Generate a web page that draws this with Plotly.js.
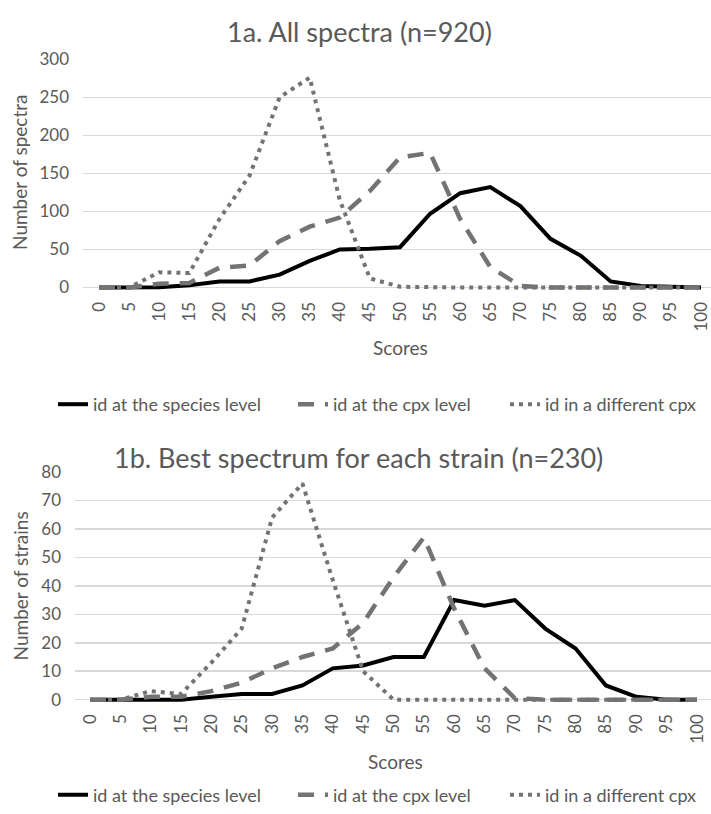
<!DOCTYPE html>
<html>
<head>
<meta charset="utf-8">
<script src="https://cdn.plot.ly/plotly-3.0.1.min.js"></script>
<style>
html,body{margin:0;padding:0;background:#fff;}
#chart{width:711px;height:814px;}
</style>
</head>
<body>
<div id="chart"></div>
<script>
// ---- data ----
const scores = [0,5,10,15,20,25,30,35,40,45,50,55,60,65,70,75,80,85,90,95,100];
const scoreLabels = ["0","5","10","15","20","25","30","35","40","45","50","55","60","65","70","75","80","85","90","95","100"];
const seriesNames = ["id at the species level","id at the cpx level","id in a different cpx"];

// 1a. All spectra (n=920)
const speciesA = [0,0,0.5,3,8,8,17,35,50,51,53,97,124,132,107,64,42,8,2,1,0];
const cpxA     = [0,0,5,6,26,29,61,80,92,127,171,177,90,27,2,0,0,0,0,0,0];
const diffA    = [0,0,20,19,90,147,250,276,115,12,1,0,0,0,0,0,0,0,0,0,0];

// 1b. Best spectrum for each strain (n=230)
const speciesB = [0,0,0,0,1,2,2,5,11,12,15,15,35,33,35,25,18,5,1,0,0];
const cpxB     = [0,0,1,1,3,6,11,15,18,27,43,57,32,11,0.5,0,0,0,0,0,0];
const diffB    = [0,0,3,2,13,25,64,76,42,10,0,0,0,0,0,0,0,0,0,0,0];

// ---- layout helpers ----
const W = 711, H = 814;
const fx = x => x / W;
const fy = y => 1 - y / H;
const FONT = "Lato, 'Open Sans', sans-serif";
const TXT = "#595959";
const GRID = "#d9d9d9";

const styles = [
  {color:"#000000", width:4, dash:"solid"},
  {color:"#737373", width:4.5, dash:"16px,11px"},
  {color:"#737373", width:4, dash:"4px,5px"}
];

// legend entries: one small legend per series (text start positions in px)
const legendTextX = [93, 333, 545];
const legendY = [407, 800];

function traces(vals, xa, ya, chartIdx) {
  return vals.map((v, i) => {
    const n = chartIdx * 3 + i + 1;
    return {
      type: "scatter", mode: "lines",
      x: scores, y: v, name: seriesNames[i],
      xaxis: xa, yaxis: ya, legend: n === 1 ? "legend" : "legend" + n,
      line: Object.assign({}, styles[i]),
      hoverinfo: "skip"
    };
  });
}

const data = [
  ...traces([speciesA, cpxA, diffA], "x", "y", 0),
  ...traces([speciesB, cpxB, diffB], "x2", "y2", 1)
];

// pixel geometry
const tx0 = 99, tx1 = 701, tL = 83;
const tppx = (tx1 - tx0) / 100;
const ty0 = 289.3, ty1 = 59.7;
const tppy = (ty0 - ty1) / 300;
const bx0 = 90, bx1 = 697, bL = 75;
const bppx = (bx1 - bx0) / 100;
const by0 = 704, by1 = 475;
const bppy = (by0 - by1) / 80;

function xAxis(L, x0, ppx, anchor) {
  return {
    domain: [fx(L), 1],
    range: [(L - x0) / ppx, (W - x0) / ppx],
    anchor: anchor,
    tickmode: "array", tickvals: scores, ticktext: scoreLabels,
    tickangle: -90, ticks: "", showgrid: false, zeroline: false, showline: false,
    tickfont: {family: FONT, size: 17, color: TXT},
    ticklabelstandoff: 7,
    fixedrange: true
  };
}
function yAxis(y0, ppy, maxV, dt, anchor) {
  const bottomPx = y0 + 3, topPx = y0 - maxV * ppy - 1;
  return {
    domain: [fy(bottomPx), fy(topPx)],
    range: [-3 / ppy, maxV + 1 / ppy],
    anchor: anchor,
    tickmode: "linear", tick0: 0, dtick: dt,
    ticks: "", showgrid: true, gridcolor: GRID, gridwidth: 1.5,
    zeroline: false, showline: false,
    tickfont: {family: FONT, size: 17, color: TXT},
    ticklabelstandoff: 13,
    fixedrange: true
  };
}

const layout = {
  width: W, height: H,
  margin: {l: 0, r: 0, t: 0, b: 0},
  paper_bgcolor: "#ffffff", plot_bgcolor: "#ffffff",
  font: {family: FONT, color: TXT},
  showlegend: true,
  xaxis: xAxis(tL, tx0, tppx, "y"),
  yaxis: yAxis(ty0, tppy, 300, 50, "x"),
  xaxis2: xAxis(bL, bx0, bppx, "y2"),
  yaxis2: yAxis(by0, bppy, 80, 10, "x2"),
  annotations: [
    {text: "1a. All spectra (n=920)", x: fx(359), y: fy(32), xref: "paper", yref: "paper",
     xanchor: "center", yanchor: "middle", showarrow: false,
     font: {family: FONT, size: 27, color: TXT}},
    {text: "1b. Best spectrum for each strain (n=230)", x: fx(358), y: fy(460), xref: "paper", yref: "paper",
     xanchor: "center", yanchor: "middle", showarrow: false,
     font: {family: FONT, size: 27, color: TXT}},
    {text: "Number of spectra", x: fx(20), y: fy(174), xref: "paper", yref: "paper",
     xanchor: "center", yanchor: "middle", textangle: -90, showarrow: false,
     font: {family: FONT, size: 19, color: TXT}},
    {text: "Number of strains", x: fx(20), y: fy(590), xref: "paper", yref: "paper",
     xanchor: "center", yanchor: "middle", textangle: -90, showarrow: false,
     font: {family: FONT, size: 19, color: TXT}},
    {text: "Scores", x: fx(400), y: fy(350), xref: "paper", yref: "paper",
     xanchor: "center", yanchor: "middle", showarrow: false,
     font: {family: FONT, size: 19, color: TXT}},
    {text: "Scores", x: fx(395), y: fy(766), xref: "paper", yref: "paper",
     xanchor: "center", yanchor: "middle", showarrow: false,
     font: {family: FONT, size: 19, color: TXT}}
  ]
};

for (let c = 0; c < 2; c++) {
  for (let i = 0; i < 3; i++) {
    const n = c * 3 + i + 1;
    layout[n === 1 ? "legend" : "legend" + n] = {
      orientation: "h",
      x: fx(legendTextX[i] - 40), xanchor: "left",
      y: fy(legendY[c]), yanchor: "middle",
      font: {family: FONT, size: 18, color: TXT},
      bgcolor: "rgba(0,0,0,0)", borderwidth: 0
    };
  }
}

Plotly.newPlot("chart", data, layout, {displayModeBar: false, staticPlot: true});
</script>
</body>
</html>
